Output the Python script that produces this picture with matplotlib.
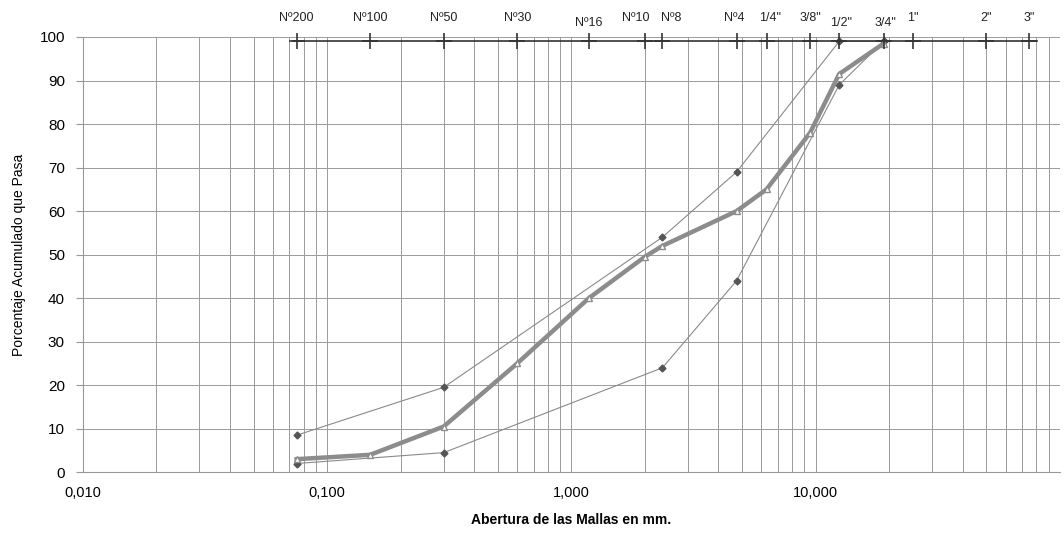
import matplotlib
matplotlib.use("Agg")
import matplotlib.pyplot as plt
from matplotlib.ticker import FixedLocator, LogLocator, NullFormatter

plt.rcParams['font.family'] = ['Liberation Sans', 'DejaVu Sans']

# Sieves
sieve_names = ["Nº200", "Nº100", "Nº50", "Nº30", "Nº16", "Nº10", "Nº8",
               "Nº4", "1/4\"", "3/8\"", "1/2\"", "3/4\"", "1\"", "2\"", "3\""]
sieve_mm = [0.075, 0.15, 0.3, 0.6, 1.18, 2.0, 2.36, 4.75, 6.3, 9.5, 12.5, 19.0, 25.0, 50.0, 75.0]

# Gradation curve
grad_mm = [0.075, 0.15, 0.3, 0.6, 1.18, 2.0, 2.36, 4.75, 6.3, 9.5, 12.5, 19.0]
grad_pass = [3.0, 4.0, 10.5, 25.0, 40.0, 49.5, 52.0, 60.0, 65.0, 78.0, 91.5, 98.5]

# Specification limits
lim_mm = [0.075, 0.3, 2.36, 4.75, 12.5, 19.0]
lower_pass = [2.0, 4.5, 24.0, 44.0, 89.0, 99.0]
upper_pass = [8.5, 19.5, 54.0, 69.0, 99.0, 99.0]

xticks = [0.01, 0.1, 1.0, 10.0]
xtick_labels = ["0,010", "0,100", "1,000", "10,000"]
yticks = [0, 10, 20, 30, 40, 50, 60, 70, 80, 90, 100]

# label placement tweaks (style, not data)
lab_dx = {"Nº10": -9, "Nº8": 8, "Nº4": -2, "1/4\"": 3, "1/2\"": 2, "3/4\"": 2}
lab_low = {"Nº16", "1/2\"", "3/4\""}

fig = plt.figure(figsize=(10.64, 5.36), dpi=100)
ax = fig.add_axes([0.078, 0.119, 0.918, 0.812])

ax.set_xscale('log')
ax.set_xlim(0.01, 100)
ax.set_ylim(0, 100)

ax.xaxis.set_major_locator(FixedLocator(xticks))
ax.set_xticklabels(xtick_labels, fontsize=10.5)
ax.xaxis.set_minor_locator(LogLocator(base=10, subs=range(2, 10)))
ax.xaxis.set_minor_formatter(NullFormatter())
ax.set_yticks(yticks)
ax.tick_params(axis='y', labelsize=11, length=5, color='#999999', pad=8)
ax.tick_params(axis='x', which='both', length=0, pad=10)

ax.grid(True, which='both', axis='x', color='#9a9a9a', lw=0.7)
ax.grid(True, which='major', axis='y', color='#9a9a9a', lw=0.7)
for s in ['top', 'right']:
    ax.spines[s].set_visible(False)
for s in ['left', 'bottom']:
    ax.spines[s].set_color('#999999')
    ax.spines[s].set_linewidth(0.8)

# Sieve line at top
ax.plot([min(sieve_mm) * 0.97, max(sieve_mm) * 1.08], [99.0, 99.0], color='#333333', lw=1.2,
        clip_on=False, zorder=4)
ax.plot(sieve_mm, [99.0] * len(sieve_mm), linestyle='none', marker='+', ms=11, mew=1.2,
        color='#333333', clip_on=False, zorder=5)
for name, mm in zip(sieve_names, sieve_mm):
    dy = 6 if name in lab_low else 9
    ax.annotate(name, (mm, 100), xytext=(lab_dx.get(name, 0) * 0.75, dy), textcoords='offset points',
                ha='center', va='bottom', fontsize=9, color='#222222', annotation_clip=False)

# Limit curves
ax.plot(lim_mm, upper_pass, color='#8a8a8a', lw=0.8, marker='D', ms=3.5,
        mfc='#555555', mec='#555555', zorder=3)
ax.plot(lim_mm, lower_pass, color='#8a8a8a', lw=0.8, marker='D', ms=3.5,
        mfc='#555555', mec='#555555', zorder=3)
# Gradation curve
ax.plot(grad_mm, grad_pass, color='#8c8c8c', lw=3.2, marker='^', ms=5,
        mfc='white', mec='#8c8c8c', mew=1, zorder=4)

ax.set_ylabel("Porcentaje Acumulado que Pasa", fontsize=10, labelpad=10)
ax.set_xlabel("Abertura de las Mallas en mm.", fontsize=10, fontweight='bold', labelpad=9)

fig.savefig("out.png", dpi=100, facecolor='white')
